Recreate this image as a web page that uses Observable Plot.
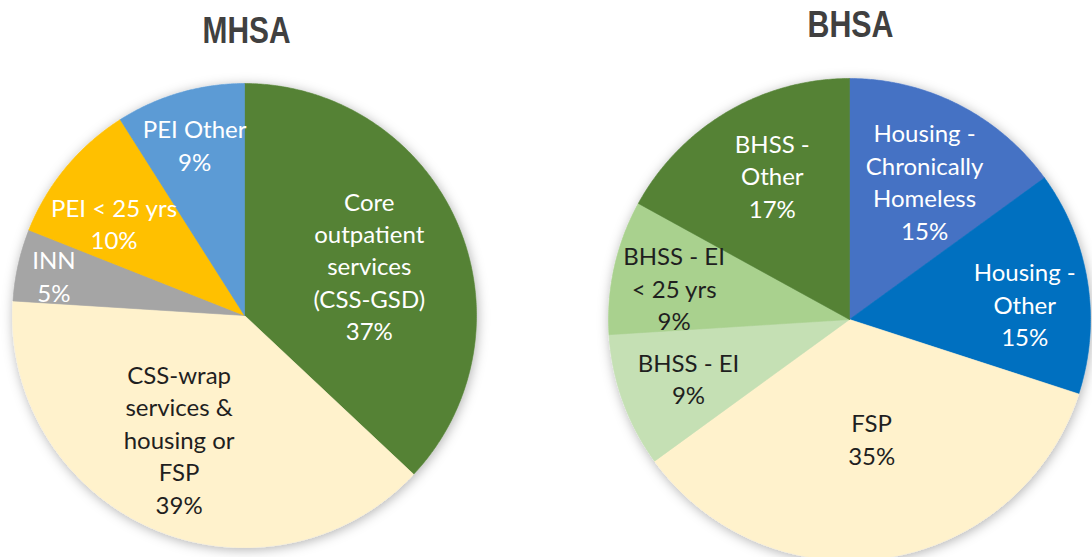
<!DOCTYPE html>
<html>
<head>
<meta charset="utf-8">
<script src="https://cdn.jsdelivr.net/npm/d3@7"></script>
<script src="https://cdn.jsdelivr.net/npm/@observablehq/plot@0.6"></script>
<style>
  html, body { margin: 0; padding: 0; background: #fff; }
  #chart { width: 1092px; height: 557px; overflow: hidden; }
</style>
</head>
<body>
<div id="chart"></div>
<script>
// ---- DATA ----
const mhsaCategories = ["Core outpatient services (CSS-GSD)", "CSS-wrap services & housing or FSP", "INN", "PEI < 25 yrs", "PEI Other"];
const mhsaLabelText = ["Core\noutpatient\nservices\n(CSS-GSD)", "CSS-wrap\nservices &\nhousing or\nFSP", "INN", "PEI < 25 yrs", "PEI Other"];
const mhsaValues = [37, 39, 5, 10, 9];

const bhsaCategories = ["Housing - Chronically Homeless", "Housing - Other", "FSP", "BHSS - EI", "BHSS - EI < 25 yrs", "BHSS - Other"];
const bhsaLabelText = ["Housing -\nChronically\nHomeless", "Housing -\nOther", "FSP", "BHSS - EI", "BHSS - EI\n< 25 yrs", "BHSS -\nOther"];
const bhsaValues = [15, 15, 35, 9, 9, 17];

const chartTitles = ["MHSA", "BHSA"];

// ---- STYLE / LAYOUT ----
const mhsaColors = ["#548235", "#FFF2CC", "#A5A5A5", "#FFC000", "#5B9BD5"];
const mhsaTextColors = ["#ffffff", "#1f1f1f", "#ffffff", "#ffffff", "#ffffff"];
const mhsaLabelRadius = [0.58, 0.60, 0.84, 0.69, 0.77];
const mhsaLabelAngleShift = [1.4, 4.6, -0.6, -4.2, 0];

const bhsaColors = ["#4472C4", "#0070C0", "#FFF2CC", "#C5E0B4", "#A9D18E", "#548235"];
const bhsaTextColors = ["#ffffff", "#ffffff", "#1f1f1f", "#1f1f1f", "#1f1f1f", "#ffffff"];
const bhsaLabelRadius = [0.655, 0.73, 0.50, 0.71, 0.74, 0.68];
const bhsaLabelAngleShift = [1.4, 3.8, -1.6, 0, -2.2, 2.5];

const W = 1092, H = 557;
const titleWidths = [88, 86];
const pies = [
  {title: chartTitles[0], cats: mhsaCategories, labels: mhsaLabelText, values: mhsaValues, colors: mhsaColors,
   textColors: mhsaTextColors, lr: mhsaLabelRadius, la: mhsaLabelAngleShift, cx: 244, cy: 315, r: 232, tx: 246, ty: 42},
  {title: chartTitles[1], cats: bhsaCategories, labels: bhsaLabelText, values: bhsaValues, colors: bhsaColors,
   textColors: bhsaTextColors, lr: bhsaLabelRadius, la: bhsaLabelAngleShift, cx: 849, cy: 319, r: 241, tx: 850, ty: 36}
];

// ---- BUILD TABLES ----
const slicePoints = [];
const labelRows = [];
const titleRows = [];
const rad = Math.PI / 180;
pies.forEach((p, pi) => {
  const total = d3.sum(p.values);
  let acc = 0;
  titleRows.push({x: p.tx, y: p.ty, text: p.title});
  p.values.forEach((v, i) => {
    const a0 = acc / total * 360;
    const a1 = (acc + v) / total * 360;
    acc += v;
    const key = p.title + "|" + p.cats[i];
    slicePoints.push({key, x: p.cx, y: p.cy, color: p.colors[i]});
    const steps = Math.max(2, Math.ceil((a1 - a0) / 0.5));
    for (let s = 0; s <= steps; s++) {
      const a = (a0 + (a1 - a0) * s / steps) * rad;
      slicePoints.push({key, x: p.cx + p.r * Math.sin(a), y: p.cy - p.r * Math.cos(a), color: p.colors[i]});
    }
    slicePoints.push({key, x: p.cx, y: p.cy, color: p.colors[i]});
    const am = ((a0 + a1) / 2 + p.la[i]) * rad;
    const lr = p.r * p.lr[i];
    labelRows.push({
      x: p.cx + lr * Math.sin(am),
      y: p.cy - lr * Math.cos(am),
      text: p.labels[i] + "\n" + v + "%",
      color: p.textColors[i]
    });
  });
});

const chart = Plot.plot({
  width: W,
  height: H,
  margin: 0,
  x: {domain: [0, W], range: [0, W], axis: null},
  y: {domain: [0, H], range: [0, H], axis: null},
  color: {type: "identity"},
  style: {background: "#fff", overflow: "visible"},
  marks: [
    Plot.line(slicePoints, {x: "x", y: "y", z: "key", fill: "color", stroke: "color", strokeWidth: 0.6, curve: "linear"}),
    Plot.text(labelRows, {x: "x", y: "y", text: "text", fill: "color", fontSize: 24, lineHeight: 1.354,
      fontFamily: "Lato, 'Open Sans', sans-serif", lineAnchor: "middle", textAnchor: "middle"}),
    Plot.text(titleRows, {x: "x", y: "y", text: "text", fill: "#404040", fontSize: 37, fontWeight: "bold",
      fontFamily: "'Liberation Sans Narrow', 'Arial Narrow', 'Liberation Sans', sans-serif", lineAnchor: "bottom", textAnchor: "middle"})
  ]
});

// soft drop shadow around pies
const svg = d3.select(chart);
const defs = svg.insert("defs", ":first-child");
const f = defs.append("filter").attr("id", "pieShadow").attr("x", "-10%").attr("y", "-10%").attr("width", "120%").attr("height", "120%");
f.append("feDropShadow").attr("dx", 1).attr("dy", 2).attr("stdDeviation", 6).attr("flood-color", "#000").attr("flood-opacity", 0.3);
svg.select('g[aria-label="line"]').attr("filter", "url(#pieShadow)");

// condense the titles (narrow bold face)
const textGroups = svg.selectAll('g[aria-label="text"]').nodes();
d3.select(textGroups[textGroups.length - 1]).selectAll("text")
  .attr("textLength", (d, i) => titleWidths[i])
  .attr("lengthAdjust", "spacingAndGlyphs");

document.getElementById("chart").appendChild(chart);
</script>
</body>
</html>
